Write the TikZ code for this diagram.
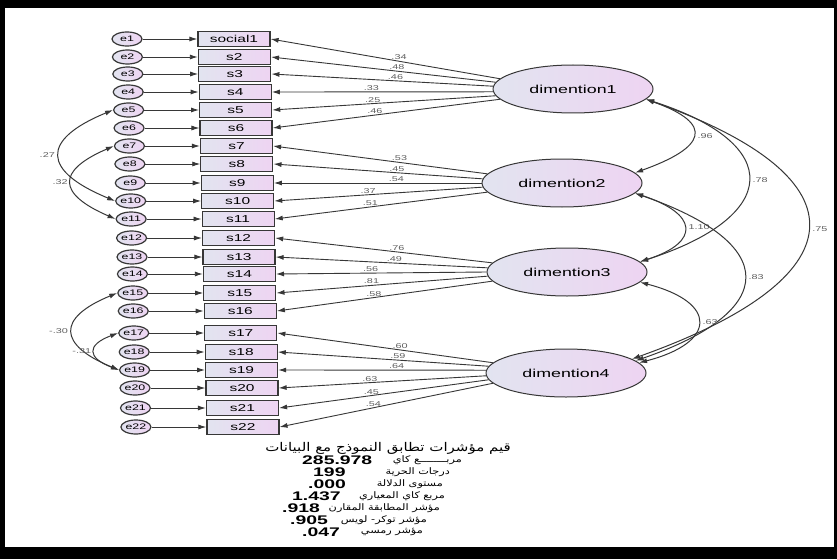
\documentclass[tikz,border=0pt]{standalone}
\usepackage{fontspec}
\setmainfont{Liberation Sans}[FakeStretch=1.55]
\newfontfamily\arabicfont[Script=Arabic,FakeStretch=1.25]{DejaVu Sans}
\TeXXeTstate=1
\usetikzlibrary{shapes.geometric,arrows.meta}

\definecolor{shadel}{RGB}{226,228,240}
\definecolor{shader}{RGB}{238,212,242}
\definecolor{lblgray}{RGB}{95,95,95}
\definecolor{linegray}{RGB}{55,55,55}

\tikzset{
  errvar/.style={ellipse, draw=linegray, line width=1.2pt, left color=shadel, right color=shader,
    minimum width=30pt, minimum height=14pt, inner sep=0pt, font=\fontsize{8}{8}\selectfont},
  obsvar/.style={rectangle, draw=linegray, line width=1.2pt, left color=shadel, right color=shader,
    minimum width=72pt, minimum height=15pt, inner sep=0pt, font=\fontsize{10}{10}\selectfont},
  latvar/.style={ellipse, draw=linegray, line width=1pt, left color=shadel, right color=shader,
    minimum width=160pt, minimum height=48pt, inner sep=0pt, font=\fontsize{11.5}{12}\selectfont},
  loadarrow/.style={draw=linegray, line width=0.9pt, -{Latex[length=8pt,width=5pt]}},
  covar/.style={draw=linegray, line width=1pt, {Latex[length=8pt,width=5pt]}-{Latex[length=8pt,width=5pt]}},
  lbl/.style={font=\fontsize{7}{7}\selectfont, text=lblgray, inner sep=1pt},
  statnum/.style={font=\fontsize{12.5}{12.5}\selectfont\bfseries, anchor=west, inner sep=0pt},
  stattxt/.style={font=\fontsize{9}{9}\selectfont, anchor=east, inner sep=0pt},
}

\begin{document}
\begin{tikzpicture}[x=1pt,y=-1pt]
  \useasboundingbox (0,0) rectangle (837,559);
  % frame
  \fill[black] (0,0) rectangle (837,559);
  \fill[white] (5,8) rectangle (834,547);

  % errors and observed items
  \foreach \y [count=\i] in {39,57,74,92,110,128,146,164,183,201,219,238,257,274,293,311,333,352,370,388,408,427} {
    \pgfmathsetmacro\dx{(\y-39)*0.023}
    \node[errvar] (e\i) at (127+\dx,\y) {e\i};
    \node[obsvar] (s\i) at (234+\dx,\y) {\ifnum\i=1 social1\else s\i\fi};
    \draw[loadarrow] (e\i) -- (s\i);
  }

  % latent factors
  \node[latvar] (d1) at (573,89) {dimention1};
  \node[latvar] (d2) at (562,183) {dimention2};
  \node[latvar] (d3) at (567,272) {dimention3};
  \node[latvar] (d4) at (566,373) {dimention4};

  % loadings
  \foreach \i/\f/\a/\v/\p in {1/1/172/.34/.44, 2/1/175/.48/.44, 3/1/178/.46/.44, 4/1/182/.33/.55,
      5/1/185/.25/.55, 6/1/188/.46/.55, 7/2/173/.53/.41, 8/2/177/.45/.41, 9/2/180/.54/.41,
      10/2/183/.37/.55, 11/2/187/.51/.55, 12/3/173/.76/.44, 13/3/177/.49/.44, 14/3/180/.56/.55,
      15/3/183/.81/.55, 16/3/187/.58/.55, 17/4/172/.60/.43, 18/4/175/.59/.43, 19/4/178/.64/.43,
      20/4/182/.63/.56, 21/4/185/.45/.56, 22/4/188/.54/.56}
    \draw[loadarrow] (d\f.\a) -- node[lbl, pos=\p, above] {\v} (s\i.east);

  % factor covariances
  \draw[covar] (d1.-8) .. controls +(70,25) and +(70,-25) .. (d2.8) node[lbl, pos=.5, right=3pt] {.96};
  \draw[covar] (d1.-8) .. controls +(140,45) and +(140,-45) .. (d3.8) node[lbl, pos=.5, right=3pt] {.78};
  \draw[covar] (d1.-8) .. controls +(225,80) and +(225,-80) .. (d4.12) node[lbl, pos=.5, right=3pt] {.75};
  \draw[covar] (d2.-8) .. controls +(62,20) and +(62,-20) .. (d3.8) node[lbl, pos=.5, right=3pt] {1.10};
  \draw[covar] (d2.-8) .. controls +(145,50) and +(145,-50) .. (d4.10) node[lbl, pos=.5, right=3pt] {.83};
  \draw[covar] (d3.-8) .. controls +(78,20) and +(78,-20) .. (d4.8) node[lbl, pos=.5, right=3pt] {.63};

  % error covariances
  \draw[covar] (e5.west) .. controls +(-73,30) and +(-73,-30) .. (e10.west) node[lbl, pos=.5, left=3pt] {.27};
  \draw[covar] (e7.west) .. controls +(-58,25) and +(-58,-25) .. (e11.west) node[lbl, pos=.5, left=2pt] {.32};
  \draw[covar] (e15.west) .. controls +(-61,25) and +(-61,-25) .. (e19.west) node[lbl, pos=.5, left=3pt] {-.30};
  \draw[covar] (e17.west) .. controls +(-32,12) and +(-32,-12) .. (e19.west) node[lbl, pos=.5, left=2pt] {-.31};

  % fit indices
  \node[font=\fontsize{12}{12}\selectfont, inner sep=0pt] (fit) at (388,448)
    {\arabicfont\beginR قيم مؤشرات تطابق النموذج مع البيانات\endR};
  \foreach \y/\n/\nx/\t/\tx [count=\k] in {460/285.978/302/مربــــــــع كاي/462, 472/199/313/درجات الحرية/450,
      484/.000/308/مستوى الدلالة/443, 496/1.437/292/مربع كاي المعياري/445,
      508/.918/282/مؤشر المطابقة المقارن/440, 520/.905/290/مؤشر توكر- لويس/427, 532/.047/302/مؤشر رمسي/423} {
    \node[statnum] (val\k) at (\nx,\y) {\n};
    \node[stattxt] (name\k) at (\tx,\y) {\arabicfont\beginR\t\endR};
  }
\end{tikzpicture}
\end{document}
